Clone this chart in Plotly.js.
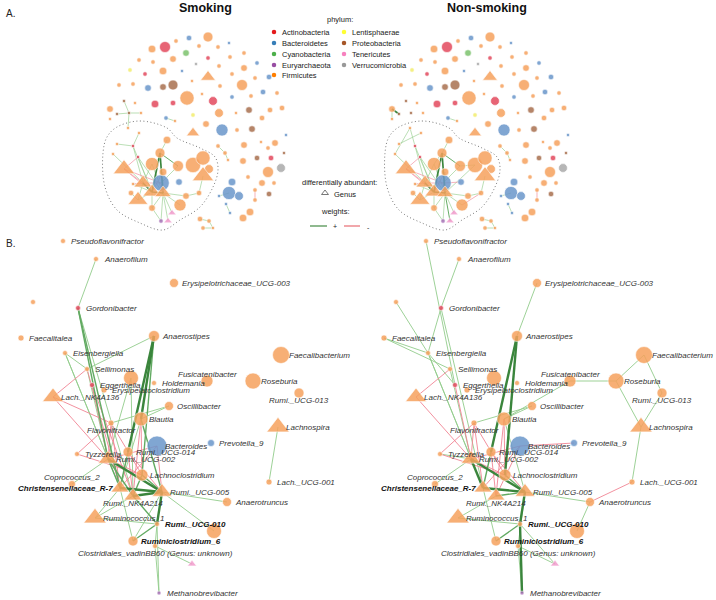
<!DOCTYPE html>
<html><head><meta charset="utf-8">
<script src="https://cdn.plot.ly/plotly-3.0.1.min.js"></script>
<style>html,body{margin:0;padding:0;background:#fff}#chart{width:716px;height:600px}</style>
</head><body><div id="chart"></div>
<script>
// ---------------- data ----------------
const phylumNames = ["Actinobacteria","Bacteroidetes","Cyanobacteria","Euryarchaeota","Firmicutes","Lentisphaerae","Proteobacteria","Tenericutes","Verrucomicrobia"];
const phylumCodes = ["A","B","C","E","F","L","P","T","V"];
const phylumColors = ["#e34a5e","#6b97cb","#7cc36d","#a873b8","#f6a25e","#f3ee6e","#a9704f","#f29ccd","#aaaaaa"];
const legendColors = ["#e41a1c","#377eb8","#4daf4a","#984ea3","#ff7f00","#ffff33","#a65628","#f781bf","#999999"];
const panelTitles = ["Smoking","Non-smoking"];

// Panel A: whole co-occurrence network (layout coordinates of the left copy)
const aNodeX = [189,208,176,152,165,186,199,218,229,244,
 208,139,153,173,196,219,230,244,257,130,
 145,163,182,208,232,255,269,119,133,148,
 163,173,192,220,242,263,277,251,202,187,
 213,155,173,232,124,110,117,129,141,135,
 193,219,236,249,262,270,282,166,175,110,
 206,222,237,252,193,128,139,286,275,268,
 257,271,284,268,281,274,262,255,269,255,
 244,218,225,228,243,261,248,232,229,239,
 219,226,230,250,243,200,209,203,213,
 117,133,113,160,152,178,193,203,209,138,
 124,203,161,179,143,133,152,163,131,138,
 180,152,199,172,161,168,167,186,163];
const aNodeY = [38,37,41,49,47,53,46,47,43,53,
 58,60,62,59,64,66,57,68,63,70,
 74,71,71,77,74,78,77,85,84,88,
 87,85,81,86,85,92,93,96,94,98,
 101,104,103,97,101,109,114,113,113,103,
 115,113,113,110,118,110,108,118,121,119,
 124,130,130,129,133,128,133,135,143,148,
 158,158,153,172,168,183,183,190,194,200,
 145,146,153,160,161,142,177,182,193,196,
 196,204,213,212,218,219,221,228,228,
 144,146,154,153,164,166,165,158,169,157,
 169,176,183,182,183,184,192,193,193,200,
 205,208,193,213,221,221,140,196,172];
const aNodeSize = [5,9,4,7,10,6,4,4,3,4,
 4,4,4,6,3,4,4,6,4,4,
 4,7,3,9,4,4,5,4,4,6,
 6,9,3,4,10,5,4,4,3,13,
 8,7,5,4,3,6,3,3,3,3,
 4,8,3,6,5,5,5,4,3,3,
 6,11,4,6,8,3,3,3,6,4,
 5,5,3,10,8,4,6,4,5,4,
 6,4,4,3,6,3,4,7,12,8,
 3,3,3,7,7,5,4,4,3,
 3,3,3,9,12,10,14,13,8,3,
 13,13,15,6,11,3,11,10,5,12,
 11,6,5,5,4,5,7,6,7];
const aNodePhylum = ["B","F","F","F","A","C","F","F","B","F",
 "A","F","F","F","V","F","F","F","B","L",
 "A","F","B","F","F","F","B","F","F","B",
 "P","P","F","F","F","B","F","F","F","F",
 "A","A","A","B","P","F","P","P","F","F",
 "L","F","F","P","F","F","F","B","F","F",
 "F","B","F","P","F","F","F","B","F","F",
 "P","A","P","F","V","F","F","F","P","F",
 "F","F","F","F","F","F","F","B","B","B",
 "B","B","B","F","F","F","F","F","F",
 "F","A","F","F","F","F","F","F","F","A",
 "F","F","B","B","F","F","F","F","F","F",
 "F","F","F","T","E","T","F","F","F"];
// node numbers (1-based) flagged as differentially abundant genera (triangles)
const aTriangleNodes = [24,65,110,111,114,116,117,119,123,125];
// edges: [node, node, weight]  (1-based node numbers, weight sign = correlation sign)
const aEdgesSmoking = [[48,47,1],[48,45,1],[48,49,1],[48,66,1],[58,59,1],[78,80,-1],[82,83,1],[83,84,1],[89,91,1],[92,93,1],[96,97,1],[97,99,1],[98,99,1],
 [67,101,1],[101,114,1],[101,116,1],[109,116,1],[109,117,1],[103,116,3],[103,117,3],[104,117,1],[104,114,1],[110,114,-1],[110,112,-1],[110,116,-1],
 [105,112,1],[105,103,2],[114,116,3],[116,117,3],[114,119,1],[116,119,1],[117,120,1],[117,121,1],[116,121,1],[117,123,1],[121,124,1],[117,124,1],
 [119,118,1],[112,114,-1],[112,117,-1],[128,116,-1],[128,117,1],[117,127,1],[127,122,1],[111,122,1],[114,115,-1],[116,115,1],[126,103,1],[109,110,-1],
 [125,117,1],[102,114,1],[100,101,1]];
const aEdgesNonSmoking = [[46,47,3],[46,60,1],[58,59,1],[78,80,-1],[82,83,1],[83,84,1],[89,91,1],[92,93,1],[96,97,1],[97,99,1],[98,99,1],
 [66,101,1],[66,102,1],[67,100,1],[101,114,1],[101,116,1],[109,116,1],[109,117,1],[103,116,3],[103,117,3],[104,117,1],[104,114,1],[110,114,-1],[110,112,-1],
 [110,116,-1],[105,112,1],[105,103,2],[114,116,3],[116,117,3],[114,119,1],[116,119,1],[117,120,1],[117,121,1],[116,121,1],[117,123,1],[121,124,1],
 [117,124,1],[119,118,1],[112,114,-1],[112,117,-1],[128,116,-1],[128,117,1],[117,127,1],[127,122,1],[111,122,1],[114,115,-1],[116,115,1],[126,103,1],
 [109,110,-1],[125,117,2],[102,114,1],[122,120,-1],[106,117,1],[105,106,1],[104,103,1],[113,112,-1]];
// dotted hull around the main module
const aHullX = [117,140,167,177,200,215,218,213,200,180,163,140,117,105,103,107,117];
const aHullY = [127,121,128,138,148,157,170,187,207,220,230,223,210,187,153,137,127];

// Panel B: zoom on the main module (layout coordinates of the left copy)
const bNodeName = ["Pseudoflavonifractor","Anaerofilum","Erysipelotrichaceae_UCG-003","n1","Gordonibacter","Faecalitalea","Anaerostipes","Eisenbergiella","Faecalibacterium","Sellimonas",
 "n2","Fusicatenibacter","Holdemania","Roseburia","Eggerthella","Erysipelatoclostridium","Lach._NK4A136","Rumi._UCG-013","Oscillibacter","Blautia",
 "Flavonifractor","Lachnospira","Bacteroides","Prevotella_9","Tyzzerella","Rumi._UCG-014","Rumi._UCG-002","Coprococcus_2","Lachnoclostridium","Lach._UCG-001",
 "Christensenellaceae_R-7","Rumi._UCG-005","Rumi._NK4A214","Anaerotruncus","Ruminococcus_1","Rumi._UCG-010","n3","Ruminiclostridium_6","Clostridiales_vadinBB60","n4",
 "Methanobrevibacter"];
const bNodeLabel = ["Pseudoflavonifractor","Anaerofilum","Erysipelotrichaceae_UCG-003","","Gordonibacter","Faecalitalea","Anaerostipes","Eisenbergiella","Faecalibacterium","Sellimonas",
 "","Fusicatenibacter","Holdemania","Roseburia","Eggerthella","Erysipelatoclostridium","Lach._NK4A136","Rumi._UCG-013","Oscillibacter","Blautia",
 "Flavonifractor","Lachnospira","Bacteroides","Prevotella_9","Tyzzerella","Rumi._UCG-014","Rumi._UCG-002","Coprococcus_2","Lachnoclostridium","Lach._UCG-001",
 "Christensenellaceae_R-7","Rumi._UCG-005","Rumi._NK4A214","Anaerotruncus","Ruminococcus_1","Rumi._UCG-010","","Ruminiclostridium_6","Clostridiales_vadinBB60 (Genus: unknown)","",
 "Methanobrevibacter"];
const bNodeX = [63,96,174,33,78,21,154,65,281,87,131,207,154,253,92,104,53,299,169,141,111,278,157,211,77,128,108,72,142,269,120,162,133,227,95,157,214,133,155,192,159];
const bNodeY = [241,259,283,302,308,338,336,353,355,369,378,381,383,381,385,390,397,393,406,419,423,427,446,443,454,452,459,484,475,482,488,492,496,502,518,524,531,541,546,564,593];
const bNodeSize = [5,5,9,5,5,6,11,5,17,5,15,12,5,16,5,6,14,10,9,14,6,15,20,7,5,10,13,7,12,6,12,13,12,9,15,5,15,10,5,6,4];
const bNodePhylum = ["F","F","F","F","A","F","F","F","F","F","F","F","F","F","A","F","F","F","F","F","F","F","B","B","F","F","F","F","F","F","F","F","F","F","F","F","F","F","F","T","E"];
const bTriangleNodes = ["Lach._NK4A136","Lachnospira","Rumi._UCG-002","Christensenellaceae_R-7","Rumi._UCG-005","Rumi._NK4A214","Ruminococcus_1","n4"];
const bBoldLabels = ["Christensenellaceae_R-7","Rumi._UCG-010","Ruminiclostridium_6"];
const bLabelAbove = ["Fusicatenibacter","Coprococcus_2"];
const bLabelBelow = ["Rumi._UCG-013","Flavonifractor","Rumi._NK4A214","Clostridiales_vadinBB60"];
const bLabelLeft = ["Christensenellaceae_R-7"];
const bEdgesSmoking = [
 ["Anaerofilum","Gordonibacter",1],["Gordonibacter","Rumi._UCG-002",2],["Gordonibacter","Christensenellaceae_R-7",2],["Gordonibacter","Rumi._NK4A214",1],
 ["Eisenbergiella","Sellimonas",1],["Eisenbergiella","Rumi._UCG-002",1],["Eisenbergiella","Christensenellaceae_R-7",1],["Anaerostipes","Sellimonas",1],
 ["Anaerostipes","Blautia",3],["Anaerostipes","Rumi._UCG-014",3],["Anaerostipes","Lachnoclostridium",2],["Sellimonas","Rumi._UCG-002",1],
 ["Oscillibacter","Flavonifractor",1],["Oscillibacter","Blautia",1],["Blautia","Rumi._UCG-005",2],["Blautia","Christensenellaceae_R-7",1],
 ["n2","Rumi._UCG-002",1],["n2","Rumi._NK4A214",1],["Rumi._UCG-002","Christensenellaceae_R-7",2],["Rumi._UCG-002","Rumi._UCG-005",3],
 ["Rumi._UCG-002","Rumi._NK4A214",2],["Christensenellaceae_R-7","Rumi._UCG-005",3],["Rumi._NK4A214","Rumi._UCG-005",3],["Rumi._NK4A214","Rumi._UCG-010",2],
 ["Rumi._UCG-005","Rumi._UCG-010",3],["Rumi._UCG-010","Ruminiclostridium_6",2],["Rumi._UCG-010","Clostridiales_vadinBB60",1],["Ruminococcus_1","Rumi._NK4A214",1],
 ["Ruminococcus_1","Christensenellaceae_R-7",1],["Ruminococcus_1","Rumi._UCG-010",1],["Coprococcus_2","Rumi._UCG-002",1],["Ruminiclostridium_6","Christensenellaceae_R-7",1],
 ["Ruminiclostridium_6","Rumi._UCG-005",1],["Clostridiales_vadinBB60","Methanobrevibacter",1],["Clostridiales_vadinBB60","n4",1],["Rumi._UCG-005","Anaerotruncus",1],
 ["Lachnoclostridium","Rumi._UCG-005",2],["Lachnospira","Lach._UCG-001",1],["Rumi._UCG-010","Methanobrevibacter",1],["Rumi._UCG-014","Christensenellaceae_R-7",2],
 ["Lachnoclostridium","Rumi._NK4A214",2],["Rumi._UCG-005","n3",1],
 ["Lach._NK4A136","Sellimonas",-1],["Lach._NK4A136","Rumi._UCG-002",-1],["Lach._NK4A136","Flavonifractor",-1],["Tyzzerella","Flavonifractor",-1],
 ["Flavonifractor","Rumi._UCG-002",-1],["Flavonifractor","Lachnoclostridium",-1],["Flavonifractor","Christensenellaceae_R-7",-1],["Sellimonas","Christensenellaceae_R-7",-1],
 ["Eggerthella","Rumi._UCG-002",-1],["Eggerthella","Rumi._NK4A214",-1],["Bacteroides","Rumi._UCG-002",-1],["Bacteroides","Christensenellaceae_R-7",-1],
 ["Blautia","Lachnoclostridium",-1],["Blautia","Rumi._NK4A214",-1],["Rumi._UCG-014","Rumi._UCG-005",-1],["Rumi._UCG-014","Rumi._NK4A214",-1],
 ["Lachnoclostridium","Rumi._UCG-002",-1],["Bacteroides","Rumi._UCG-005",-1],["Tyzzerella","Lachnoclostridium",-1]];
const bEdgesNonSmoking = [
 ["Pseudoflavonifractor","Eggerthella",1],["Anaerofilum","Gordonibacter",1],["Gordonibacter","Eisenbergiella",1],["n1","Eisenbergiella",1],
 ["Faecalitalea","Eisenbergiella",1],["Faecalitalea","Sellimonas",1],["Eisenbergiella","Eggerthella",1],["Eisenbergiella","Rumi._UCG-002",1],
 ["Eisenbergiella","Christensenellaceae_R-7",1],["Gordonibacter","Christensenellaceae_R-7",1],["Erysipelotrichaceae_UCG-003","Anaerostipes",1],["Anaerostipes","Rumi._UCG-014",3],
 ["Anaerostipes","Lachnoclostridium",3],["Fusicatenibacter","Roseburia",1],["Fusicatenibacter","Blautia",1],["Roseburia","Faecalibacterium",1],
 ["Faecalibacterium","Rumi._UCG-013",1],["Roseburia","Lachnospira",1],["Rumi._UCG-013","Lachnospira",1],["Lachnospira","Lach._UCG-001",1],
 ["Anaerotruncus","Rumi._UCG-005",1],["Anaerotruncus","n3",1],["Oscillibacter","Blautia",1],["Oscillibacter","Flavonifractor",1],
 ["n4","Rumi._UCG-010",1],["n4","Clostridiales_vadinBB60",1],["Rumi._UCG-010","Methanobrevibacter",3],["Clostridiales_vadinBB60","Methanobrevibacter",1],
 ["Rumi._UCG-002","Christensenellaceae_R-7",3],["Rumi._UCG-002","Rumi._UCG-005",3],["Christensenellaceae_R-7","Rumi._UCG-005",3],["Rumi._NK4A214","Rumi._UCG-005",2],
 ["Rumi._UCG-005","Rumi._UCG-010",3],["Rumi._UCG-010","Ruminiclostridium_6",2],["Ruminococcus_1","Rumi._NK4A214",1],["Ruminococcus_1","Rumi._UCG-010",1],
 ["Coprococcus_2","Rumi._UCG-002",1],["Ruminiclostridium_6","Christensenellaceae_R-7",1],["Clostridiales_vadinBB60","Rumi._UCG-005",1],["Lachnoclostridium","Rumi._UCG-005",2],
 ["Blautia","Rumi._UCG-005",1],["Rumi._UCG-014","Christensenellaceae_R-7",2],["Sellimonas","Rumi._UCG-002",1],["Tyzzerella","Rumi._UCG-002",1],
 ["Lach._UCG-001","Anaerotruncus",-1],["Bacteroides","Prevotella_9",-1],["Lach._NK4A136","Sellimonas",-1],["Lach._NK4A136","Rumi._UCG-002",-1],
 ["Tyzzerella","Flavonifractor",-1],["Flavonifractor","Rumi._UCG-002",-1],["Flavonifractor","Lachnoclostridium",-1],["Flavonifractor","Christensenellaceae_R-7",-1],
 ["Eggerthella","Rumi._UCG-002",-1],["Bacteroides","Rumi._UCG-002",-1],["Bacteroides","Christensenellaceae_R-7",-1],["Blautia","Lachnoclostridium",-1],
 ["Blautia","Rumi._NK4A214",-1],["Rumi._UCG-014","Rumi._UCG-005",-1],["Lachnoclostridium","Rumi._UCG-002",-1],["Bacteroides","Rumi._NK4A214",-1],
 ["Tyzzerella","Lachnoclostridium",-1],["Rumi._UCG-014","Rumi._NK4A214",-1]];

// ---------------- drawing ----------------
const A_SHIFT = 282, B_SHIFT = 363;
const FONT = "Liberation Sans, Arial, Helvetica, sans-serif";
const traces = [];
const annotations = [];
const colorOf = p => phylumColors[phylumCodes.indexOf(p)];

function edgeStyle(w, scale) {
  if (w < 0) return {color: "#f08594", width: 0.9 * scale};
  if (w >= 3) return {color: "#3a853c", width: 2.4 * scale};
  if (w === 2) return {color: "#62aa62", width: 1.4 * scale};
  return {color: "#92cc8b", width: 0.9 * scale};
}
function addEdges(xs, ys, pairs, dx, scale) {
  const groups = {};
  pairs.forEach(([a, b, w]) => {
    const k = String(w);
    if (!groups[k]) groups[k] = {x: [], y: [], w: w};
    groups[k].x.push(xs[a] + dx, xs[b] + dx, null);
    groups[k].y.push(ys[a], ys[b], null);
  });
  ["1", "-1", "2", "3"].forEach(k => {
    const g = groups[k];
    if (!g) return;
    traces.push({type: "scatter", mode: "lines", x: g.x, y: g.y, hoverinfo: "skip",
      line: edgeStyle(g.w, scale)});
  });
}
function addNodes(xs, ys, sizes, phyla, tri, dx, scale) {
  traces.push({type: "scatter", mode: "markers", hoverinfo: "skip",
    x: xs.map(v => v + dx), y: ys,
    marker: {
      size: sizes.map((s, i) => (tri[i] ? s * 1.3 : s) * scale),
      color: phyla.map(colorOf),
      symbol: tri.map(t => t ? "triangle-up" : "circle"),
      opacity: 0.85,
      line: {color: "#ffffff", width: 0.6}
    }});
}

// Panel A networks
const aTri = aNodeX.map((_, i) => aTriangleNodes.includes(i + 1));
[aEdgesSmoking, aEdgesNonSmoking].forEach((edges, k) => {
  const dx = k * A_SHIFT;
  traces.push({type: "scatter", mode: "lines", x: aHullX.map(v => v + dx), y: aHullY, hoverinfo: "skip",
    line: {color: "#7a7a7a", width: 1, dash: "1px,2.5px", shape: "spline", smoothing: 1.0}});
  addEdges(aNodeX, aNodeY, edges.map(([a, b, w]) => [a - 1, b - 1, w]), dx, 0.7);
  addNodes(aNodeX, aNodeY, aNodeSize, aNodePhylum, aTri, dx, 1.1);
  annotations.push({x: 205 + dx, y: 8, text: "<b>" + panelTitles[k] + "</b>", showarrow: false,
    xanchor: "center", yanchor: "middle", font: {family: FONT, size: 12.5, color: "#111"}});
});

// Panel B networks
const bIdx = n => bNodeName.indexOf(n);
const bTri = bNodeName.map(n => bTriangleNodes.includes(n));
[bEdgesSmoking, bEdgesNonSmoking].forEach((edges, k) => {
  const dx = k * B_SHIFT;
  addEdges(bNodeX, bNodeY, edges.map(([a, b, w]) => [bIdx(a), bIdx(b), w]), dx, 1);
  addNodes(bNodeX, bNodeY, bNodeSize, bNodePhylum, bTri, dx, 1);
  bNodeName.forEach((n, i) => {
    const lab = bNodeLabel[i];
    if (!lab) return;
    let x = bNodeX[i] + dx + 5.5, y = bNodeY[i], xa = "left";
    if (bLabelAbove.includes(n)) { x = bNodeX[i] + dx; y = bNodeY[i] - 7; xa = "center"; }
    if (bLabelBelow.includes(n)) { x = bNodeX[i] + dx; y = bNodeY[i] + 7; xa = "center"; }
    if (bLabelLeft.includes(n)) { x = bNodeX[i] + dx - 5; xa = "right"; }
    const bold = bBoldLabels.includes(n);
    annotations.push({x: x, y: y, xanchor: xa, yanchor: "middle", showarrow: false,
      text: bold ? "<b><i>" + lab + "</i></b>" : "<i>" + lab + "</i>",
      font: {family: FONT, size: 8, color: bold ? "#111" : "#333"}});
  });
});

// Panel letters
annotations.push({x: 4, y: 13, text: "A.", showarrow: false, xanchor: "left", yanchor: "middle", font: {family: FONT, size: 10, color: "#222"}});
annotations.push({x: 4, y: 243, text: "B.", showarrow: false, xanchor: "left", yanchor: "middle", font: {family: FONT, size: 10, color: "#222"}});

// Legend (phylum)
const legCol = [0,0,0,0,0,1,1,1,1], legRow = [0,1,2,3,4,0,1,2,3];
const legX = [274, 344], legY = [32, 43, 54, 65, 75];
traces.push({type: "scatter", mode: "markers", hoverinfo: "skip",
  x: legCol.map(c => legX[c]), y: legRow.map(r => legY[r]),
  marker: {size: 4.5, color: legendColors, line: {width: 0}}});
phylumNames.forEach((nm, i) => {
  annotations.push({x: legX[legCol[i]] + 6, y: legY[legRow[i]], text: nm, showarrow: false,
    xanchor: "left", yanchor: "middle", font: {family: FONT, size: 7.5, color: "#222"}});
});
annotations.push({x: 340, y: 19, text: "phylum:", showarrow: false, xanchor: "center", yanchor: "middle", font: {family: FONT, size: 7.5, color: "#222"}});
annotations.push({x: 339, y: 182, text: "differentially abundant:", showarrow: false, xanchor: "center", yanchor: "middle", font: {family: FONT, size: 7.5, color: "#222"}});
traces.push({type: "scatter", mode: "markers", hoverinfo: "skip", x: [325], y: [193],
  marker: {size: 6, symbol: "triangle-up-open", color: "#555", line: {width: 0.8}}});
annotations.push({x: 332, y: 194, text: "Genus", showarrow: false, xanchor: "left", yanchor: "middle", font: {family: FONT, size: 7.5, color: "#222"}});
annotations.push({x: 335, y: 211, text: "weights:", showarrow: false, xanchor: "center", yanchor: "middle", font: {family: FONT, size: 7.5, color: "#222"}});
traces.push({type: "scatter", mode: "lines", hoverinfo: "skip", x: [310, 327], y: [226, 226], line: {color: "#6aa26a", width: 1.5}});
traces.push({type: "scatter", mode: "lines", hoverinfo: "skip", x: [344, 360], y: [226, 226], line: {color: "#ec8a8f", width: 1.5}});
annotations.push({x: 335, y: 226, text: "+", showarrow: false, xanchor: "center", yanchor: "middle", font: {family: FONT, size: 7, color: "#222"}});
annotations.push({x: 368, y: 227, text: "-", showarrow: false, xanchor: "center", yanchor: "middle", font: {family: FONT, size: 7, color: "#222"}});

const layout = {
  width: 716, height: 600, margin: {l: 0, r: 0, t: 0, b: 0},
  paper_bgcolor: "#ffffff", plot_bgcolor: "#ffffff", showlegend: false,
  xaxis: {range: [0, 716], visible: false, fixedrange: true},
  yaxis: {range: [600, 0], visible: false, fixedrange: true},
  annotations: annotations
};
Plotly.newPlot("chart", traces, layout, {staticPlot: true, displayModeBar: false});
</script></body></html>
